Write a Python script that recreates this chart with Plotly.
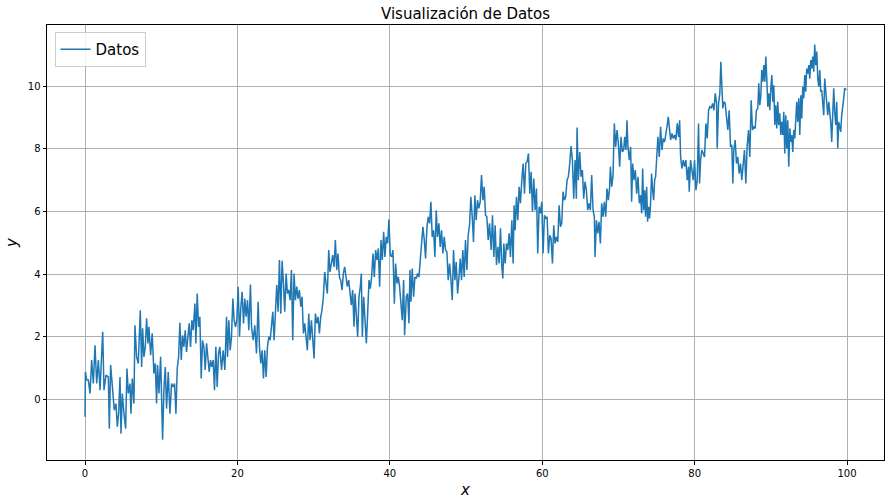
import plotly.graph_objects as go

# Values, (x, y) pairs per stretch of the series
seg1 = [(0.00,-0.55),(0.05,0.88),(0.22,0.62),(0.44,0.62),(0.66,0.19),(0.87,1.26),(1.09,0.51),(1.31,1.73),(1.53,0.51),(1.75,1.26),(1.97,0.30),(2.18,1.26),(2.32,2.16),(2.49,0.30),(2.75,0.78),(3.06,0.72),(3.19,-0.93),(3.36,1.10),(3.63,0.19),(3.84,-0.34),(4.06,-0.13),(4.24,-0.87),(4.41,-0.45),(4.59,0.72),(4.72,-1.09),(4.89,0.19),(5.11,-0.45),(5.33,-0.93),(5.50,0.99),(5.68,0.19),(5.90,0.51),(6.03,-0.45),(6.20,0.67),(6.42,-0.13),(6.55,2.37),(6.77,1.36),(6.99,1.15),(7.12,1.89),(7.25,2.85),(7.43,1.04),(7.56,2.27),(7.73,1.36),(7.91,1.68),(8.08,2.59),(8.26,1.79),(8.39,2.32),(8.61,1.41),(8.82,2.11),(9.04,0.83),(9.22,1.15),(9.39,-0.13),(9.52,1.10),(9.70,0.19),(9.92,1.36),(10.18,-1.28),(10.35,0.30),(10.53,1.04),(10.70,-0.29),(10.92,0.88),(11.14,-0.45),(11.36,0.51),(11.58,0.40),(11.75,0.51),(11.93,-0.45),(12.10,0.99),(12.28,1.36),(12.45,2.45),(12.63,1.26),(12.80,2.05),(12.97,1.68),(13.15,2.21),(13.32,1.52),(13.50,2.00),(13.67,2.43),(13.85,1.68),(14.02,2.53),(14.20,2.21),(14.42,3.06),(14.55,1.79),(14.72,3.38),(14.90,2.32),(15.07,2.64),(15.25,0.67),(15.42,1.89),(15.60,1.68),(15.77,0.94),(15.95,1.79),(16.12,1.20),(16.30,0.88),(16.47,1.26),(16.64,1.04),(16.82,1.26),(16.99,0.30),(17.17,1.68),(17.34,0.40),(17.52,1.47),(17.69,1.68)]
seg2 = [(17.91,0.94),(18.13,1.57),(18.35,0.94),(18.57,2.64),(18.70,1.36),(18.87,2.53),(19.05,1.57),(19.22,2.00),(19.40,3.22),(19.57,2.53),(19.75,2.32),(19.92,2.53),(20.10,3.60),(20.27,2.00),(20.45,2.96),(20.62,3.44),(20.80,2.43),(20.97,3.22),(21.14,2.64),(21.32,3.17),(21.49,2.21),(21.71,3.67),(21.85,2.32),(22.07,1.89),(22.28,2.37),(22.50,1.47),(22.72,3.12),(22.89,1.68),(23.07,1.15),(23.24,1.57),(23.42,0.67),(23.59,1.57),(23.77,0.72),(23.94,1.68),(24.12,2.00),(24.29,1.89),(24.46,2.32),(24.64,2.80),(24.81,1.89),(24.99,2.85),(25.16,3.65),(25.34,2.80),(25.51,4.45),(25.69,2.74),(25.86,4.43),(26.04,3.70),(26.21,2.80),(26.39,4.02),(26.56,3.38),(26.74,3.49),(26.91,3.17),(27.09,4.13),(27.26,1.89),(27.43,4.02),(27.61,3.17),(27.78,3.60),(27.96,3.22),(28.13,3.49),(28.31,2.96),(28.48,3.28),(28.66,2.11),(28.83,2.43),(29.01,1.89),(29.18,1.57),(29.36,2.74),(29.53,1.89),(29.71,2.53),(29.88,1.84),(30.06,1.31),(30.23,2.74),(30.41,2.43),(30.58,2.64),(30.76,2.11),(30.93,2.64),(31.10,2.85),(31.28,3.28),(31.45,4.07),(31.63,3.70),(31.80,3.38),(31.98,4.77),(32.15,4.07),(32.33,4.34),(32.50,4.61),(32.68,4.23),(32.85,5.09),(33.03,4.13),(33.20,4.66),(33.38,3.91),(33.55,3.81),(33.73,3.49),(33.90,4.02),(34.07,4.23),(34.25,3.91),(34.42,3.60),(34.60,3.81),(34.77,3.49),(34.95,3.01),(35.12,3.49),(35.30,2.32)]
seg3 = [(35.43,3.38),(35.60,2.59),(35.78,2.00),(35.95,3.28),(36.13,3.60),(36.26,4.02),(36.39,2.00),(36.57,3.28),(36.74,2.53),(36.92,1.79),(37.09,2.74),(37.27,3.81),(37.44,3.54),(37.61,3.91),(37.79,4.66),(37.96,3.91),(38.14,4.77),(38.31,4.45),(38.49,4.82),(38.66,3.60),(38.84,5.09),(39.01,4.45),(39.19,5.35),(39.36,4.55),(39.53,5.19),(39.71,4.98),(39.88,5.74),(40.06,4.61),(40.24,4.55),(40.41,4.77),(40.59,3.06),(40.76,4.34),(40.94,3.70),(41.11,3.91),(41.28,3.60),(41.46,2.96),(41.63,2.53),(41.81,3.81),(41.94,2.05),(42.16,3.28),(42.33,3.38),(42.51,2.43),(42.64,4.13),(42.77,3.12),(42.94,4.18),(43.12,3.28),(43.29,3.91),(43.47,3.86),(43.64,4.02),(43.82,3.91),(43.99,4.45),(44.17,4.87),(44.34,5.51),(44.52,5.09),(44.69,4.50),(44.87,5.51),(45.04,5.83),(45.22,5.62),(45.39,6.31),(45.56,5.19),(45.74,5.40),(45.91,4.55),(46.09,6.04),(46.26,5.19),(46.44,5.62),(46.61,4.87),(46.79,5.40),(46.96,4.66),(47.14,5.19),(47.31,4.77),(47.49,4.71),(47.66,3.81),(47.84,4.34),(48.01,3.86),(48.19,3.17),(48.36,4.77),(48.54,3.81),(48.71,4.39),(48.89,3.38),(49.06,3.86),(49.24,4.50),(49.41,3.81),(49.58,4.77),(49.76,3.91),(49.93,5.09),(50.11,4.13),(50.28,5.24),(50.46,5.56),(50.63,6.47),(50.81,5.83),(50.98,5.03),(51.16,6.52),(51.33,5.72),(51.51,6.36),(51.68,6.10),(51.86,6.31),(52.03,7.16),(52.21,6.36),(52.38,6.79),(52.56,5.88),(52.73,5.83),(52.91,5.09),(53.08,5.62)]
seg4 = [(53.30,4.77),(53.47,5.88),(53.65,4.55),(53.82,5.56),(54.00,4.29),(54.17,4.87),(54.35,4.34),(54.52,5.46),(54.70,4.23),(54.83,3.86),(54.96,4.98),(55.13,4.34),(55.31,4.98),(55.48,4.77),(55.66,5.30),(55.83,4.55),(56.01,5.72),(56.18,4.34),(56.31,6.20),(56.44,5.40),(56.62,6.47),(56.79,5.72),(56.97,6.79),(57.14,6.26),(57.32,7.00),(57.49,7.53),(57.67,6.57),(57.84,7.53),(58.02,7.59),(58.19,7.85),(58.37,6.57),(58.54,7.27),(58.72,5.99),(58.89,7.05),(59.07,6.04),(59.24,6.73),(59.41,4.66),(59.59,6.15),(59.76,5.94),(59.94,6.31),(60.11,4.66),(60.29,5.88),(60.46,5.78),(60.64,5.83),(60.81,4.66),(60.99,5.24),(61.16,5.14),(61.34,4.34),(61.51,5.56),(61.69,4.98),(61.86,5.19),(62.04,5.03),(62.21,6.20),(62.39,5.51),(62.56,5.62),(62.73,6.63),(62.91,6.36),(63.08,6.47),(63.26,7.00),(63.43,7.11),(63.61,7.53),(63.78,8.09),(63.96,7.64),(64.13,6.41),(64.31,7.64),(64.48,6.41),(64.57,8.68),(64.74,7.00),(64.92,7.90),(65.09,7.11),(65.27,7.32),(65.44,6.41),(65.62,6.95),(65.79,6.68),(65.97,6.04),(66.14,6.26),(66.32,6.04),(66.49,7.16),(66.67,6.04),(66.84,5.83),(66.93,4.55),(67.11,5.72),(67.28,5.30),(67.45,5.67),(67.63,4.98),(67.80,6.26),(67.98,5.83),(68.15,6.31),(68.33,5.83),(68.50,6.73),(68.68,6.36),(68.85,6.79),(68.94,7.43),(69.12,6.79),(69.29,7.16),(69.46,8.81),(69.64,8.06),(69.81,8.60),(69.99,8.17),(70.16,7.43),(70.34,8.38),(70.51,7.90),(70.69,7.96)]
seg5 = [(70.82,8.38),(70.99,7.96),(71.12,8.91),(71.25,8.06),(71.43,7.64),(71.60,8.06),(71.73,6.31),(71.87,7.53),(72.04,7.00),(72.22,7.32),(72.39,6.57),(72.57,7.11),(72.74,6.26),(72.91,6.52),(73.05,5.94),(73.18,7.37),(73.31,6.04),(73.44,6.68),(73.57,5.83),(73.70,6.79),(73.83,5.67),(73.96,6.15),(74.09,5.78),(74.22,6.26),(74.35,7.21),(74.49,6.68),(74.62,6.36),(74.75,7.00),(74.88,7.11),(75.01,7.64),(75.18,8.38),(75.36,7.74),(75.53,8.70),(75.71,7.96),(75.88,8.33),(76.06,8.22),(76.23,8.44),(76.41,8.76),(76.54,9.02),(76.67,8.76),(76.85,8.28),(77.02,8.49),(77.20,8.33),(77.37,8.44),(77.54,8.28),(77.72,8.81),(77.89,8.38),(78.03,8.91),(78.16,7.74),(78.33,7.37),(78.51,7.64),(78.68,7.43),(78.85,7.64),(79.03,7.00),(79.20,7.43),(79.29,6.63),(79.47,7.64),(79.64,7.32),(79.82,7.00),(79.99,7.64),(80.17,6.68),(80.34,7.00),(80.51,8.81),(80.65,6.89),(80.78,7.64),(80.95,7.96),(81.13,7.85),(81.30,7.74),(81.48,8.81),(81.65,8.33),(81.83,9.23),(82.00,9.34),(82.18,9.29),(82.35,9.45),(82.53,9.23),(82.70,9.77),(82.88,9.45),(82.96,8.01),(83.14,9.45),(83.31,9.77),(83.44,10.78),(83.57,10.19),(83.70,9.29),(83.83,9.50),(84.01,9.45),(84.18,9.02),(84.36,8.60),(84.53,9.23),(84.71,8.06),(84.88,8.12),(85.01,6.89),(85.14,7.96),(85.32,8.28),(85.49,7.53),(85.67,7.74),(85.84,7.21),(86.02,7.53),(86.19,7.00),(86.37,7.64),(86.54,7.96),(86.72,6.89),(86.89,8.06),(87.07,8.60),(87.24,7.74),(87.42,9.55),(87.59,8.60),(87.77,8.70),(87.94,8.65),(88.11,9.23),(88.29,9.29),(88.42,10.09)]
seg6 = [(88.55,9.39),(88.68,9.66),(88.81,10.51),(88.95,10.14),(89.08,10.67),(89.21,10.14),(89.34,10.94),(89.47,10.24),(89.60,9.34),(89.73,9.77),(89.86,9.23),(90.00,9.93),(90.13,10.35),(90.26,9.50),(90.39,10.03),(90.52,8.76),(90.65,9.39),(90.78,8.65),(90.91,9.50),(91.04,8.76),(91.17,9.13),(91.31,8.44),(91.44,8.86),(91.57,8.44),(91.70,9.18),(91.83,7.85),(91.96,9.07),(92.09,8.01),(92.22,8.91),(92.35,7.43),(92.49,8.65),(92.62,8.22),(92.75,8.44),(92.88,7.90),(93.01,8.60),(93.14,8.33),(93.27,9.18),(93.40,9.50),(93.53,8.86),(93.67,9.61),(93.80,8.44),(93.93,9.71),(94.06,8.97),(94.19,9.98),(94.32,9.61),(94.45,10.35),(94.58,9.82),(94.71,10.56),(94.85,10.40),(94.98,10.67),(95.11,10.24),(95.24,10.83),(95.37,10.56),(95.50,10.94),(95.63,10.46),(95.76,11.33),(95.89,10.67),(96.03,11.10),(96.16,10.24),(96.29,9.98),(96.42,10.51),(96.55,9.82),(96.68,9.87),(96.81,9.39),(96.94,9.07),(97.07,10.24),(97.21,9.77),(97.34,9.61),(97.47,9.07),(97.60,9.50),(97.73,9.23),(97.86,8.86),(97.99,8.22),(98.12,9.07),(98.25,9.93),(98.38,9.18),(98.52,8.76),(98.65,9.50),(98.78,8.01),(98.91,8.86),(99.04,8.65),(99.17,8.54),(99.30,9.07),(99.43,9.50),(99.56,9.61),(99.69,9.93),(99.90,9.88)]

x_ticks = [0, 20, 40, 60, 80, 100]
y_ticks = [0, 2, 4, 6, 8, 10]

points = seg1 + seg2 + seg3 + seg4 + seg5 + seg6
xs = [p[0] for p in points]
ys = [p[1] for p in points]

FONT = "DejaVu Sans, Arial, sans-serif"

fig = go.Figure()
fig.add_trace(go.Scatter(
    x=xs, y=ys, mode="lines", name="Datos",
    line=dict(color="#1f77b4", width=1.5),
))

axis_common = dict(
    showline=True, mirror=True, linecolor="black", linewidth=1,
    ticks="outside", ticklen=3.5, tickwidth=0.8, tickcolor="black",
    showgrid=True, gridcolor="#b0b0b0", gridwidth=0.8,
    zeroline=False, automargin=False,
    tickfont=dict(size=10, color="black", family=FONT),
)

fig.update_layout(
    width=891, height=503,
    margin=dict(l=47, r=7, t=25, b=43),
    paper_bgcolor="white", plot_bgcolor="white",
    font=dict(family=FONT, color="black"),
    title=dict(text="Visualización de Datos", x=0.5, xref="paper",
               y=1 - 14 / 503, yref="container", yanchor="middle",
               font=dict(size=15, color="black", family=FONT)),
    showlegend=True,
    legend=dict(x=0.009, y=0.984, xanchor="left", yanchor="top",
                itemwidth=30,
                bgcolor="rgba(255,255,255,0.8)", bordercolor="#cccccc", borderwidth=1,
                font=dict(size=15, color="black", family=FONT)),
    xaxis=dict(range=[-4.99, 104.85], tickvals=x_ticks,
               title=dict(text="<i>x</i>", font=dict(size=15, family=FONT), standoff=6),
               **axis_common),
    yaxis=dict(range=[-1.93, 11.95], tickvals=y_ticks,
               title=dict(text="<i>y</i>", font=dict(size=15, family=FONT), standoff=6),
               **axis_common),
)

fig.write_html("out.html", config={"displayModeBar": False},
               post_script="document.body.style.margin='0px';")
